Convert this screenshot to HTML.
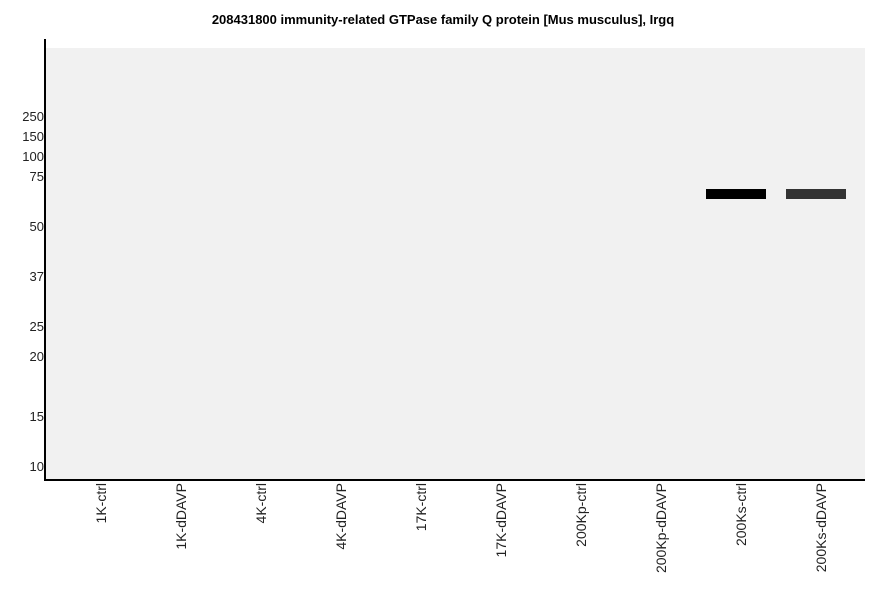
<!DOCTYPE html>
<html><head><style>
body{margin:0;width:886px;height:595px;background:#fff;font-family:"Liberation Sans",sans-serif;position:relative;overflow:hidden}
.t{position:absolute;top:12px;left:0;width:886px;text-align:center;font-weight:bold;font-size:13px}
.y{position:absolute;right:842px;font-size:13px;color:#222;line-height:14px}
.x{position:absolute;top:483px;font-size:14px;color:#222;writing-mode:vertical-rl;transform:rotate(180deg);line-height:14px}
</style></head><body>
<div class="t">208431800 immunity-related GTPase family Q protein [Mus musculus], Irgq</div>
<div style="position:absolute;left:46px;top:48px;width:819px;height:431px;background:#f1f1f1"></div>
<div style="position:absolute;left:44px;top:39px;width:2px;height:442px;background:#000"></div>
<div style="position:absolute;left:44px;top:479px;width:821px;height:2px;background:#000"></div>
<div style="position:absolute;left:706px;top:189px;width:60px;height:10px;background:#000"></div>
<div style="position:absolute;left:786px;top:189px;width:60px;height:10px;background:#333"></div>
<div class="y" style="top:110px">250</div>
<div class="y" style="top:130px">150</div>
<div class="y" style="top:150px">100</div>
<div class="y" style="top:170px">75</div>
<div class="y" style="top:220px">50</div>
<div class="y" style="top:270px">37</div>
<div class="y" style="top:320px">25</div>
<div class="y" style="top:350px">20</div>
<div class="y" style="top:410px">15</div>
<div class="y" style="top:460px">10</div>
<div class="x" style="left:94px">1K-ctrl</div>
<div class="x" style="left:174px">1K-dDAVP</div>
<div class="x" style="left:254px">4K-ctrl</div>
<div class="x" style="left:334px">4K-dDAVP</div>
<div class="x" style="left:414px">17K-ctrl</div>
<div class="x" style="left:494px">17K-dDAVP</div>
<div class="x" style="left:574px">200Kp-ctrl</div>
<div class="x" style="left:654px">200Kp-dDAVP</div>
<div class="x" style="left:734px">200Ks-ctrl</div>
<div class="x" style="left:814px">200Ks-dDAVP</div>
</body></html>
